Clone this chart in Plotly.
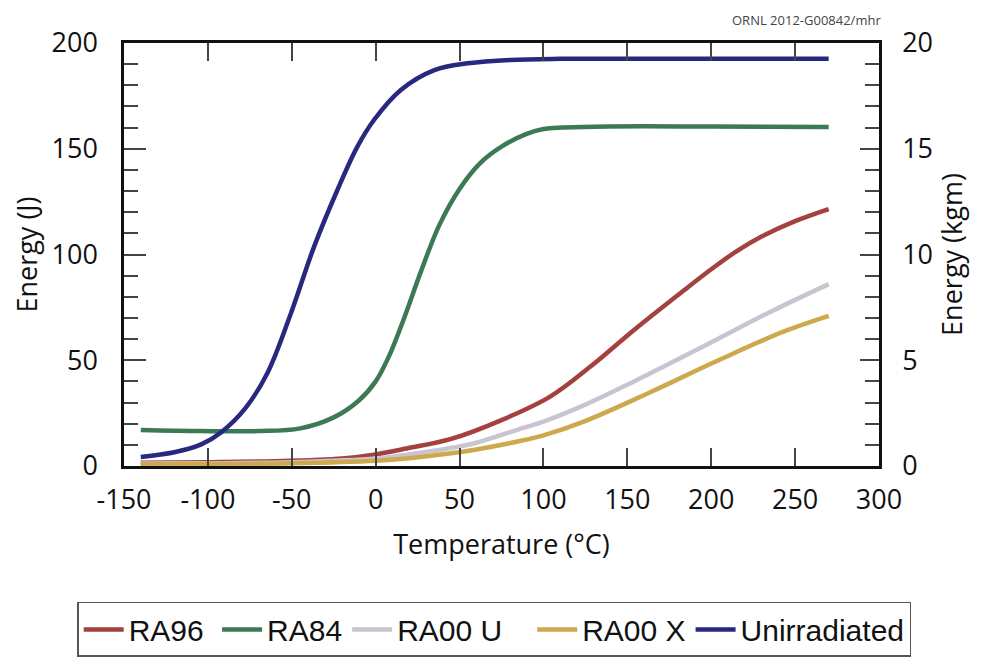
import plotly.graph_objects as go

# Temperature (°C) sample points and Charpy energy (J) per series
ra96_t = [-140, -100, -60, -20, 0, 19, 45, 75, 104, 128, 154, 184, 200, 215, 230, 250, 270]
ra96_e = [1.5, 1.8, 2.3, 3.6, 5.5, 8.4, 12.8, 21.7, 32.8, 47, 64.3, 83.2, 93, 101.5, 108.5, 115.8, 121.5]

ra84_t = [-140, -104, -70, -45, -25, -10, 0, 8, 17, 27, 38, 50, 62, 75, 90, 100, 130, 200, 270]
ra84_e = [17.0, 16.5, 16.5, 17.8, 23.0, 31.0, 40.0, 52, 70, 92, 114, 131, 143, 151, 157, 159.3, 160.4, 160.5, 160.3]

ra00u_t = [-140, -100, -50, 0, 20, 45, 60, 84, 100, 125, 154, 194, 233, 270]
ra00u_e = [1.2, 1.3, 1.8, 3.5, 5.5, 8.5, 11, 17, 21, 29, 40, 56, 72, 86]

ra00x_t = [-140, -100, -50, 0, 20, 45, 60, 84, 100, 124, 164, 203, 243, 270]
ra00x_e = [0.8, 0.9, 1.3, 2.5, 3.7, 6.0, 7.8, 11.5, 14.5, 21, 35, 49.5, 63.5, 71]

unirr_t = [-140, -120, -104, -92, -78, -64.5, -50.6, -36.7, -22.8, -10.9, -1, 15, 35, 55, 80, 110, 200, 270]
unirr_e = [4.3, 6.5, 10.2, 16.0, 27, 44, 72, 103.7, 130.5, 151, 163.6, 177.8, 187.2, 190.4, 192, 192.5, 192.5, 192.5]

NB = "\u00a0"
series = [
    ("RA96" + NB, ra96_t, ra96_e, "#A4413F"),
    ("RA84", ra84_t, ra84_e, "#3B7A55"),
    ("RA00 U" + NB * 3, ra00u_t, ra00u_e, "#C9C5D0"),
    ("RA00 X", ra00x_t, ra00x_e, "#CDA94E"),
    ("Unirradiated", unirr_t, unirr_e, "#28287F"),
]

x_ticks = [-150, -100, -50, 0, 50, 100, 150, 200, 250, 300]
y_ticks = [0, 50, 100, 150, 200]
y2_ticks = [0, 5, 10, 15, 20]

FONT = "Open Sans, Liberation Sans, sans-serif"

fig = go.Figure()
for name, t, e, c in series:
    fig.add_trace(go.Scatter(x=t, y=e, name=name, mode="lines",
                             line=dict(color=c, width=4.5, shape="spline", smoothing=1.0)))
# invisible trace to activate the right-hand (kgm) axis
fig.add_trace(go.Scatter(x=[None], y=[None], yaxis="y2", showlegend=False, hoverinfo="skip"))

fig.update_layout(
    width=984, height=666,
    paper_bgcolor="white", plot_bgcolor="white",
    margin=dict(l=116, r=113, t=35, b=208, autoexpand=False),
    font=dict(family=FONT, size=27, color="#111"),
    xaxis=dict(range=[-150, 300], tickvals=x_ticks, ticktext=[str(v) for v in x_ticks],
               showgrid=False, zeroline=False, showline=True, linecolor="#111", linewidth=2.5,
               mirror="ticks", ticks="inside", ticklen=18, tickwidth=1.5, tickcolor="#444",
               ticklabelstandoff=8, automargin=False,
               title=dict(text="Temperature (°C)", font=dict(size=27), standoff=19)),
    yaxis=dict(range=[0, 200], tickvals=y_ticks, showgrid=False, zeroline=False,
               showline=True, linecolor="#111", linewidth=2.5, mirror=True,
               ticks="inside", ticklen=22, tickwidth=1.5, tickcolor="#444",
               ticklabelstandoff=18, automargin=False,
               minor=dict(dtick=10, ticks="inside", ticklen=14, tickwidth=1.5, tickcolor="#444"),
               title=dict(text="Energy (J)", font=dict(size=27), standoff=8)),
    yaxis2=dict(range=[0, 20], tickvals=y2_ticks, overlaying="y", side="right",
                showgrid=False, zeroline=False, showline=True, linecolor="#111", linewidth=2.5,
                ticks="inside", ticklen=19, tickwidth=1.5, tickcolor="#444",
                ticklabelstandoff=15, automargin=False,
                minor=dict(dtick=1, ticks="inside", ticklen=14, tickwidth=1.5, tickcolor="#444"),
                title=dict(text="Energy (kgm)", font=dict(size=27), standoff=8)),
    legend=dict(orientation="h", x=-0.062, xanchor="left", y=-0.3215, yanchor="top",
                bordercolor="#555", borderwidth=1.5, bgcolor="white",
                font=dict(family="Liberation Sans, Arial, sans-serif", size=30, color="#111"),
                itemwidth=40, tracegroupgap=0),
    annotations=[dict(text="ORNL 2012-G00842/mhr", xref="paper", yref="paper",
                      x=1.0, xanchor="right", y=1.0, yanchor="bottom", yshift=12, xshift=4,
                      showarrow=False, font=dict(size=13, color="#444"))],
    showlegend=True,
)

fig.write_html("out.html")
